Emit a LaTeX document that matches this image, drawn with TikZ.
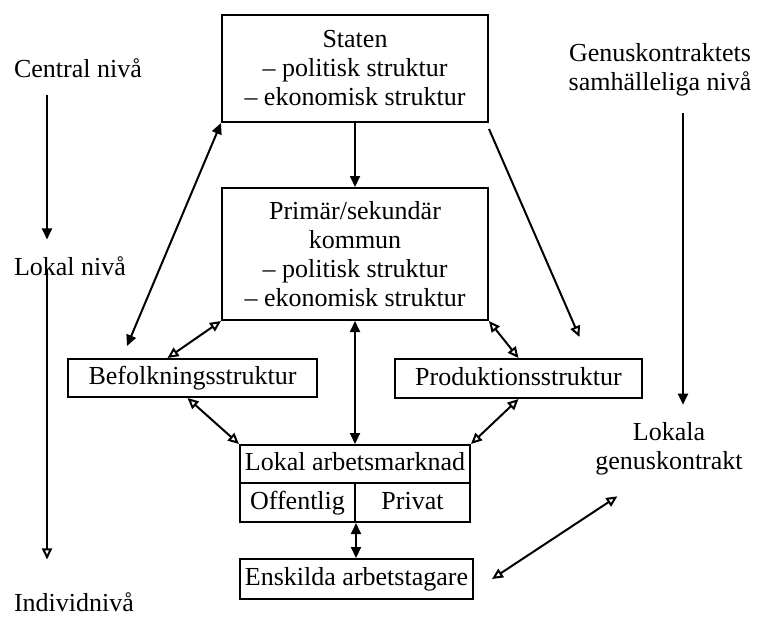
\documentclass[tikz,border=0pt]{standalone}
\usepackage{fontspec}
\setmainfont{Liberation Serif}
\usetikzlibrary{arrows.meta,calc}
\begin{document}
\begin{tikzpicture}[x=0.5pt,y=-0.5pt,line width=1pt,
  box/.style={draw,line width=1pt,inner sep=1pt,align=center,font=\fontsize{13}{14.5}\selectfont},
  row/.style={box,text height=9.5pt,text depth=3pt},
  lbl/.style={inner sep=1pt,align=center,font=\fontsize{13}{14.5}\selectfont},
  tipf/.style={-{Triangle[length=5.5pt,width=5pt]}},
  tipo/.style={-{Triangle[open,length=5.5pt,width=5pt]}},
  bothf/.style={{Triangle[length=5.5pt,width=5pt]}-{Triangle[length=5.5pt,width=5pt]}},
  botho/.style={{Triangle[open,length=5.5pt,width=5pt]}-{Triangle[open,length=5.5pt,width=5pt]}}]
\useasboundingbox (0,0) rectangle (759,617);
% boxes
\node[box,minimum width=133pt,minimum height=53.5pt] (staten) at (355,68.5) {Staten\\– politisk struktur\\– ekonomisk struktur};
\node[box,minimum width=133pt,minimum height=66pt] (kommun) at (355,254) {Primär/sekundär\\kommun\\– politisk struktur\\– ekonomisk struktur};
\node[row,minimum width=124.5pt,minimum height=19pt] (befolk) at (192.5,378) {Befolkningsstruktur};
\node[row,minimum width=123.5pt,minimum height=19.5pt] (prod) at (518.5,378.5) {Produktionsstruktur};
\node[row,minimum width=115pt,minimum height=19pt] (lokal) at (355,464) {Lokal arbetsmarknad};
\node[row,minimum width=57.5pt,minimum height=19.5pt] (offentlig) at (297.5,502.5) {Offentlig};
\node[row,minimum width=57.5pt,minimum height=19.5pt] (privat) at (412.5,502.5) {Privat};
\node[row,minimum width=116.5pt,minimum height=20pt] (enskilda) at (356.5,579) {Enskilda arbetstagare};
% levels
\node[lbl,anchor=west] (central) at (11,68) {Central nivå};
\node[lbl,anchor=west] (lokalniva) at (11,266) {Lokal nivå};
\node[lbl,anchor=west] (individ) at (11,602) {Individnivå};
\node[lbl] (genus) at (660,70) {Genuskontraktets\\samhälleliga nivå};
\node[lbl] (lokalagenus) at (669,449) {Lokala\\genuskontrakt};
\draw[tipf] ($(central.south west)+(36,14)$) -- ($(lokalniva.north west)+(36,-14)$);
\draw[tipo] ($(lokalniva.south west)+(36,-10)$) -- ($(individ.north west)+(36,-30)$);
\draw[tipf] ($(genus.south)+(23,14)$) -- ($(lokalagenus.north)+(14,-15)$);
% connectors
\draw[bothf] (staten.south west) -- ($(befolk.north west)+(60,-12)$);
\draw[tipf] (staten.south) -- (kommun.north);
\draw[tipo] ($(staten.south east)+(0,6)$) -- ($(prod.north)+(61,-21)$);
\draw[botho] (kommun.south west) -- ($(befolk.north)+(-25,0)$);
\draw[botho] (kommun.south east) -- (prod.north);
\draw[bothf] (kommun.south) -- (lokal.north);
\draw[botho] ($(befolk.south)+(-5,0)$) -- (lokal.north west);
\draw[botho] (prod.south) -- (lokal.north east);
\draw[bothf] (offentlig.south east) -- (offentlig.south east |- enskilda.north);
\draw[botho] ($(enskilda.east)+(18,0)$) -- ($(lokalagenus.south west)+(25,18)$);
\end{tikzpicture}
\end{document}
